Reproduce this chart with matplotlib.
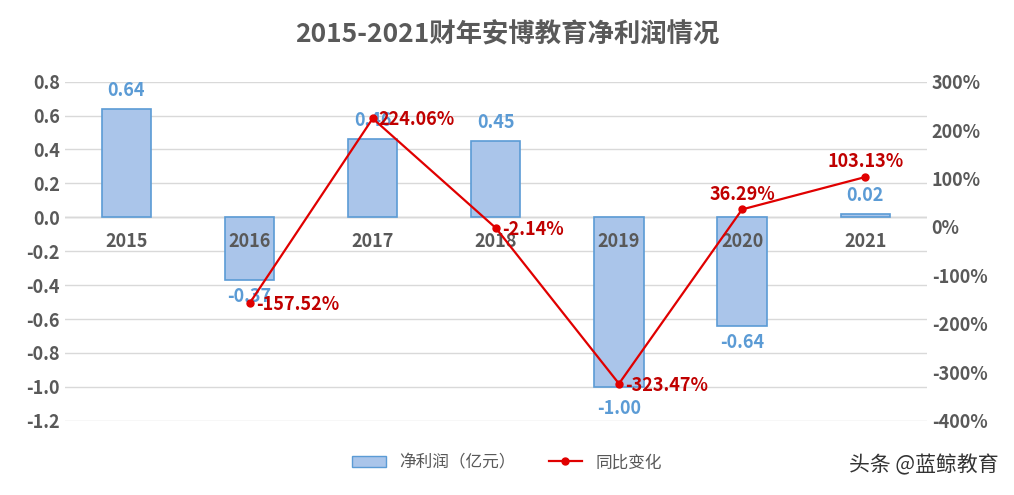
import matplotlib.pyplot as plt
from matplotlib.lines import Line2D
from matplotlib.patches import Patch

plt.rcParams['font.family'] = ['Noto Sans CJK SC', 'DejaVu Sans']

years = ['2015', '2016', '2017', '2018', '2019', '2020', '2021']
profit = [0.64, -0.37, 0.46, 0.45, -1.00, -0.64, 0.02]
growth_years = ['2016', '2017', '2018', '2019', '2020', '2021']
growth = [-157.52, 224.06, -2.14, -323.47, 36.29, 103.13]

fig = plt.figure(figsize=(10.14, 4.95), dpi=100)
ax = fig.add_axes([0.064, 0.15, 0.85, 0.685])
x = list(range(len(years)))
ax.bar(x, profit, width=0.4, color='#aac5ea', edgecolor='#5b9bd5', linewidth=1.2, zorder=2)
ax.set_ylim(-1.2, 0.8)
ax.set_yticks([0.8, 0.6, 0.4, 0.2, 0.0, -0.2, -0.4, -0.6, -0.8, -1.0, -1.2])
ax.set_yticklabels([f'{v:.1f}' for v in ax.get_yticks()])
ax.set_xlim(-0.5, 6.5)
ax.set_xticks([])
ax.grid(axis='y', color='#d9d9d9', linewidth=1, zorder=0)
for s in ax.spines.values():
    s.set_visible(False)
ax.axhline(0, color='#bfbfbf', linewidth=1, zorder=1)
ax.tick_params(axis='y', length=0, labelsize=13, labelcolor='#595959')
for lbl in ax.get_yticklabels():
    lbl.set_fontweight('bold')
for i, y in enumerate(years):
    ax.text(i, -0.14, y, ha='center', va='center', fontsize=13, color='#595959', fontweight='bold', zorder=5)
for i, v in enumerate(profit):
    off = 0.11 if v >= 0 else -0.1
    if v < -0.9:
        off = -0.13
    ax.text(i, v + off, f'{v:.2f}', ha='center', va='center',
            fontsize=13, color='#5b9bd5', fontweight='bold', zorder=5)

ax2 = ax.twinx()
gx = [years.index(y) for y in growth_years]
ax2.plot(gx, growth, color='#e00000', linewidth=1.6, marker='o', markersize=5, zorder=4)
ax2.set_ylim(-400, 300)
ax2.set_yticks(range(-400, 301, 100))
ax2.set_yticklabels([f'{v}%' for v in range(-400, 301, 100)])
ax2.tick_params(axis='y', length=0, labelsize=13, labelcolor='#595959')
for lbl in ax2.get_yticklabels():
    lbl.set_fontweight('bold')
for s in ax2.spines.values():
    s.set_visible(False)
for xi, v in zip(gx, growth):
    if v in (36.29, 103.13):
        ax2.text(xi, v + 12, f'{v:.2f}%', ha='center', va='bottom', fontsize=13,
                 color='#c00000', fontweight='bold')
    else:
        ax2.text(xi + 0.05, v - 3, f'{v:.2f}%', ha='left', va='center', fontsize=13,
                 color='#c00000', fontweight='bold')

fig.text(0.5, 0.93, '2015-2021财年安博教育净利润情况', ha='center', va='center',
         fontsize=19, color='#595959', fontweight='bold')
handles = [Patch(facecolor='#aac5ea', edgecolor='#5b9bd5'),
           Line2D([0], [0], color='#e00000', linewidth=1.6, marker='o', markersize=5)]
fig.legend(handles, ['净利润（亿元）', '同比变化'], loc='center', bbox_to_anchor=(0.5, 0.065),
           ncol=2, frameon=False, fontsize=12, labelcolor='#595959')
fig.text(0.985, 0.06, '头条 @蓝鲸教育', ha='right', va='center', fontsize=15, color='#333333')
fig.savefig('out.png')
